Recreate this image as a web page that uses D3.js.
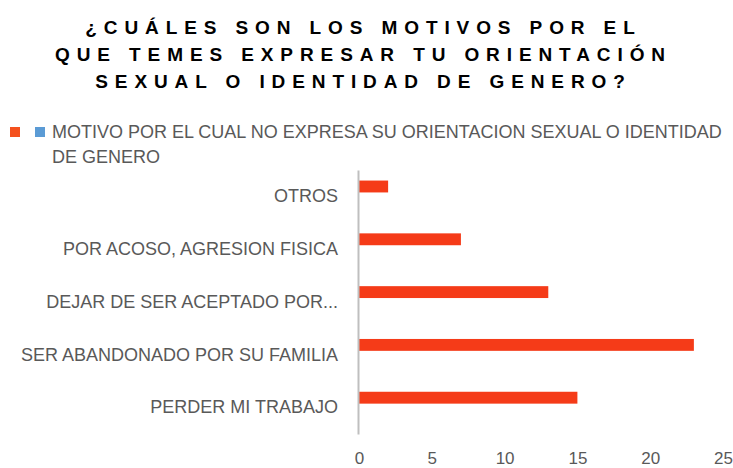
<!DOCTYPE html>
<html>
<head>
<meta charset="utf-8">
<script src="https://cdn.jsdelivr.net/npm/d3@7"></script>
<style>
  body { margin: 0; background: #fff; }
  svg { display: block; }
</style>
</head>
<body>
<script>
// chart data
let categories = ["OTROS", "POR ACOSO, AGRESION FISICA", "DEJAR DE SER ACEPTADO POR...", "SER ABANDONADO POR SU FAMILIA", "PERDER MI TRABAJO"];
let values = [2, 7, 13, 23, 15];
let seriesNames = ["MOTIVO POR EL CUAL NO EXPRESA SU ORIENTACION SEXUAL O IDENTIDAD", "DE GENERO"];
let titleLines = ["¿CUÁLES SON LOS MOTIVOS POR EL", "QUE TEMES EXPRESAR TU ORIENTACIÓN", "SEXUAL O IDENTIDAD DE GENERO?"];
let xTicks = [0, 5, 10, 15, 20, 25];

let width = 733,
  height = 468;

let labelFont = "'Liberation Sans', Arial, sans-serif";
let gray = "#595959";

let svg = d3.select("body")
  .append("svg")
  .attr("width", width)
  .attr("height", height);

// title
svg.append("g")
  .selectAll("text")
  .data(titleLines)
  .join("text")
  .attr("x", 363.5)
  .attr("y", (d, i) => 34 + i * 27)
  .attr("text-anchor", "middle")
  .attr("font-family", "'Liberation Sans', Arial, sans-serif")
  .attr("font-weight", "bold")
  .attr("font-size", 19)
  .attr("letter-spacing", 6.9)
  .attr("fill", "#000")
  .text(d => d);

// legend
let legend = svg.append("g");
legend.append("rect").attr("x", 10).attr("y", 127).attr("width", 10).attr("height", 10).attr("fill", "#f4511e");
legend.append("rect").attr("x", 35).attr("y", 127).attr("width", 10).attr("height", 10).attr("fill", "#5b9bd5");
legend.selectAll("text")
  .data(seriesNames)
  .join("text")
  .attr("x", 52)
  .attr("y", (d, i) => 138 + i * 25)
  .attr("font-family", labelFont)
  .attr("font-size", 18)
  .attr("fill", gray)
  .text(d => d);

// scales
let x = d3.scaleLinear()
  .domain([0, 25])
  .range([359, 723]);

let y0 = d3.scaleBand()
  .domain(categories)
  .range([170, 434])
  .paddingInner(0.4)
  .paddingOuter(0.2);

let y1 = d3.scaleBand()
  .domain(["a", "b"])
  .range([0, y0.bandwidth()])
  .paddingInner(0.4);

// bars
svg.append("g")
  .selectAll("rect")
  .data(values)
  .join("rect")
  .attr("x", x(0))
  .attr("y", (d, i) => y0(categories[i]) + y1("a"))
  .attr("width", d => x(d) - x(0))
  .attr("height", y1.bandwidth())
  .attr("fill", "#f53b18");

// y axis
let yAxis = svg.append("g")
  .attr("transform", "translate(358,0)")
  .call(d3.axisLeft(y0).tickSize(0).tickSizeOuter(0).tickPadding(20));
yAxis.select(".domain").attr("stroke", "#bfbfbf").attr("stroke-width", 2);
yAxis.selectAll("text")
  .attr("font-family", labelFont)
  .attr("font-size", 18)
  .attr("fill", gray);

// x axis
let xAxis = svg.append("g")
  .attr("transform", "translate(0,434)")
  .call(d3.axisBottom(x).tickValues(xTicks).tickSize(0));
xAxis.select(".domain").remove();
xAxis.selectAll("text")
  .attr("y", 30)
  .attr("dy", null)
  .attr("font-family", labelFont)
  .attr("font-size", 17)
  .attr("fill", gray);
</script>
</body>
</html>
